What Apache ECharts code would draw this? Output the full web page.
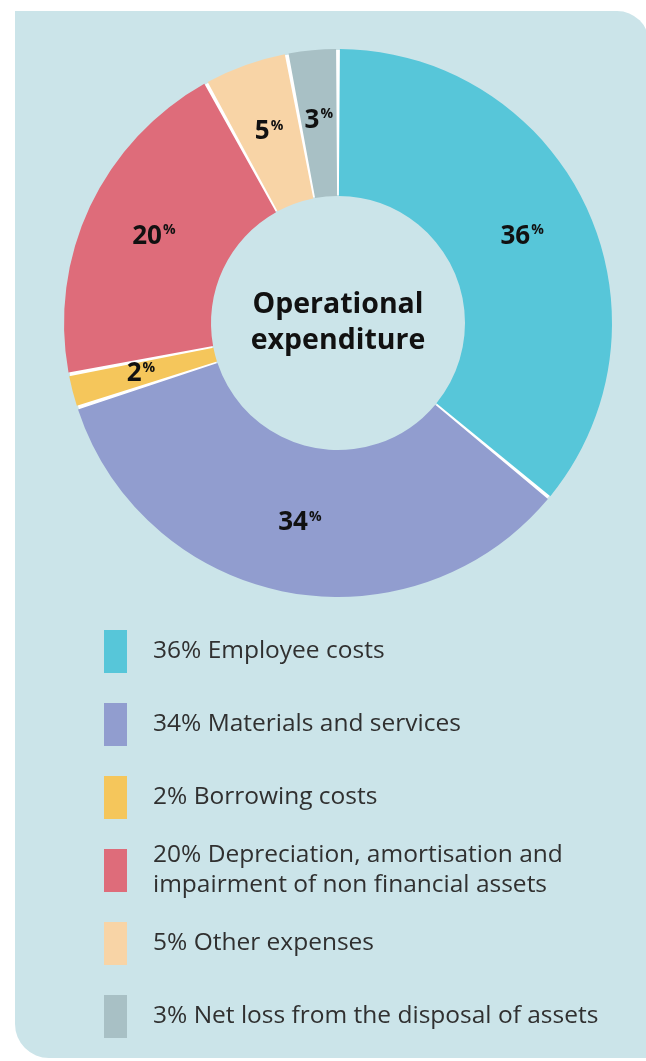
<!DOCTYPE html>
<html>
<head>
<meta charset="utf-8">
<title>Operational expenditure</title>
<script src="https://cdn.jsdelivr.net/npm/echarts/dist/echarts.min.js"></script>
<style>
  html, body { margin: 0; padding: 0; background: #ffffff; }
  #chart { width: 646px; height: 1061px; }
</style>
</head>
<body>
<div id="chart"></div>
<script>
// data
const categories = ['Employee costs', 'Materials and services', 'Borrowing costs',
  'Depreciation, amortisation and impairment of non financial assets', 'Other expenses',
  'Net loss from the disposal of assets'];
const legendText = ['Employee costs', 'Materials and services', 'Borrowing costs',
  'Depreciation, amortisation and\nimpairment of non financial assets', 'Other expenses',
  'Net loss from the disposal of assets'];
const shares = [36, 34, 2, 20, 5, 3];
const colors = ['#57c6d9', '#919dcf', '#f5c65b', '#de6c7a', '#f8d4a6', '#a8c0c5'];
const centerTitle = 'Operational\nexpenditure';

const FONT = '"Open Sans", "Noto Sans", sans-serif';
const chart = echarts.init(document.getElementById('chart'));

// one legend per row so the squares keep an even pitch
const legends = categories.map(function (name, i) {
  const lines = legendText[i].split('\n').length;
  const extra = Math.max(0, lines * 30 - 43) / 2;
  return {
    orient: 'vertical',
    left: 104,
    top: 630 + i * 73 - extra,
    padding: 0,
    icon: 'rect',
    itemWidth: 23,
    itemHeight: 43,
    selectedMode: false,
    data: [name],
    formatter: function () {
      return shares[i] + '% ' + legendText[i];
    },
    textStyle: {
      fontFamily: FONT,
      fontSize: 24.5,
      color: '#303030',
      lineHeight: 30,
      padding: [0, 0, 0, 21]
    }
  };
});

const option = {
  backgroundColor: '#ffffff',
  color: colors,
  graphic: [
    {
      type: 'rect',
      z: -10,
      shape: { x: 15, y: 11, width: 634, height: 1047, r: [0, 32, 0, 34] },
      style: { fill: '#cbe4e9' }
    },
    {
      type: 'text',
      z: 10,
      x: 338,
      y: 323,
      style: {
        text: centerTitle,
        align: 'center',
        verticalAlign: 'middle',
        fontFamily: FONT,
        fontWeight: 'bold',
        fontSize: 28.5,
        lineHeight: 36,
        fill: '#111111'
      }
    }
  ],
  legend: legends,
  series: [
    {
      // white ring showing through the gaps between slices
      type: 'pie',
      center: [338, 323],
      radius: [128, 273],
      silent: true,
      label: { show: false },
      labelLine: { show: false },
      data: [{ value: 1, name: '', itemStyle: { color: '#ffffff' } }],
      z: 1
    },
    {
      type: 'pie',
      center: [338, 323],
      radius: [127, 274],
      startAngle: 90,
      clockwise: true,
      padAngle: 0.8,
      z: 2,
      emphasis: { scale: false },
      label: {
        show: true,
        position: 'inside',
        formatter: '{n|{c}}{p|%}',
        rich: {
          n: { fontFamily: FONT, fontWeight: 'bold', fontSize: 26, color: '#111111' },
          p: { fontFamily: FONT, fontWeight: 'bold', fontSize: 14, color: '#111111', padding: [0, 0, 12, 1] }
        }
      },
      labelLine: { show: false },
      data: categories.map(function (name, i) {
        return { name: name, value: shares[i] };
      })
    }
  ]
};

chart.setOption(option);
</script>
</body>
</html>
